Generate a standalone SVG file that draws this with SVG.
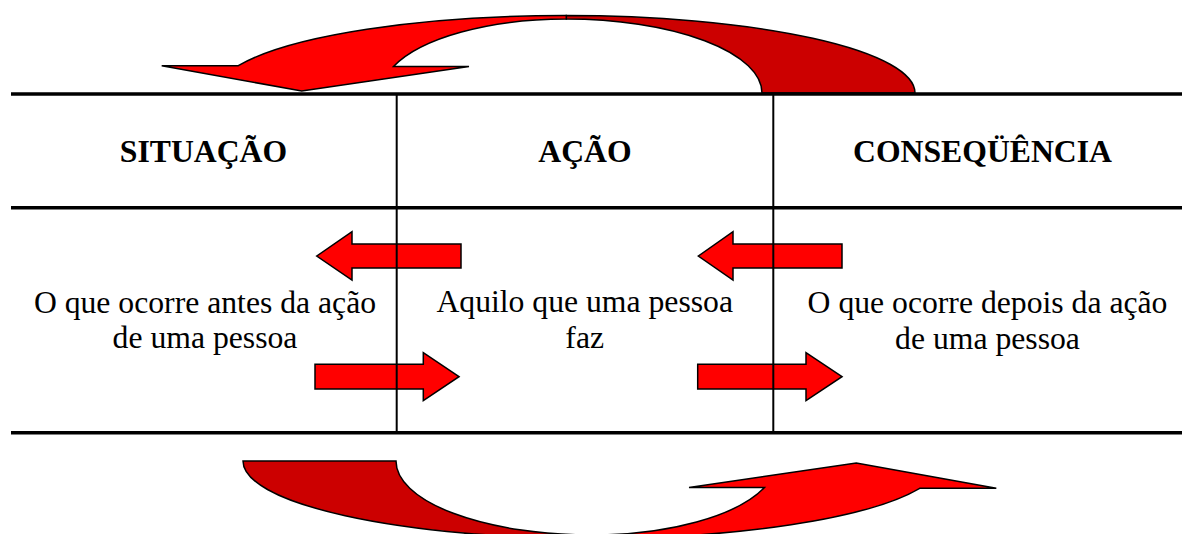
<svg xmlns="http://www.w3.org/2000/svg" width="1182" height="534" viewBox="0 0 1182 534">
  <style>
    .rule { stroke: #000; stroke-width: 3.6; fill: none; }
    .col { stroke: #000; stroke-width: 2; fill: none; }
    .arrow { fill: #FF0000; stroke: #000; stroke-width: 1.5; stroke-linejoin: miter; }
    .back { fill: #CC0000; stroke: #000; stroke-width: 1.5; }
    .head { font-family: "Liberation Serif", "Times New Roman", serif; font-weight: bold; font-size: 31.7px; fill: #000; text-anchor: middle; }
    .body { font-family: "Liberation Serif", "Times New Roman", serif; font-size: 31.7px; fill: #000; text-anchor: middle; }
  </style>
  <defs>
    <g id="curved">
      <path class="back" d="M 566.3,15.6 A 348.7 77.4 0 0 1 915,93 L 762,93 A 195.7 74 0 0 0 566.3,19 Z"/>
      <path class="arrow" d="M 566.3,19 A 184.7 74 0 0 0 393.5,66.5 L 469,66.5 L 301.7,91 L 161.7,65.7 L 238.3,65.7 A 348.7 77.4 0 0 1 566.3,15.6 Z"/>
    </g>
  </defs>
  <rect width="1182" height="534" fill="#fff"/>

  <g id="connectors">
    <use href="#curved"/>
    <use href="#curved" transform="rotate(180 579 277)"/>
    <path class="arrow" d="M 316.7,256 L 352,231.7 L 352,244 L 461,244 L 461,268 L 352,268 L 352,280 Z"/>
    <path class="arrow" d="M 459,376.7 L 423.3,352.7 L 423.3,364.3 L 315,364.3 L 315,389 L 423.3,389 L 423.3,400.7 Z"/>
    <path class="arrow" d="M 698.3,256 L 733,231.7 L 733,244 L 842,244 L 842,268 L 733,268 L 733,280 Z"/>
    <path class="arrow" d="M 842,376.7 L 806,352.7 L 806,364.3 L 697.7,364.3 L 697.7,389 L 806,389 L 806,400.7 Z"/>
  </g>

  <g id="table">
    <line class="rule" x1="11" y1="94" x2="1182" y2="94"/>
    <line class="rule" x1="11" y1="207.7" x2="1182" y2="207.7"/>
    <line class="rule" x1="11" y1="432.8" x2="1182" y2="432.8"/>
    <line class="col" x1="396.7" y1="94" x2="396.7" y2="432.8"/>
    <line class="col" x1="773.3" y1="94" x2="773.3" y2="432.8"/>
  </g>

  <g id="situacao-header"><text class="head" x="203.5" y="161.7">SITUAÇÃO</text></g>
  <g id="acao-header"><text class="head" x="585" y="161.7">AÇÃO</text></g>
  <g id="consequencia-header"><text class="head" x="982.5" y="161.7">CONSEQÜÊNCIA</text></g>

  <g id="situacao-body">
    <text class="body" x="205" y="313"><tspan x="205">O que ocorre antes da ação</tspan><tspan x="205" y="348.3">de uma pessoa</tspan></text>
  </g>
  <g id="acao-body">
    <text class="body" x="584.7" y="312"><tspan x="584.7">Aquilo que uma pessoa</tspan><tspan x="584.7" y="348.3">faz</tspan></text>
  </g>
  <g id="consequencia-body">
    <text class="body" x="987.5" y="313"><tspan x="987.5">O que ocorre depois da ação</tspan><tspan x="987.5" y="348.7">de uma pessoa</tspan></text>
  </g>
</svg>
